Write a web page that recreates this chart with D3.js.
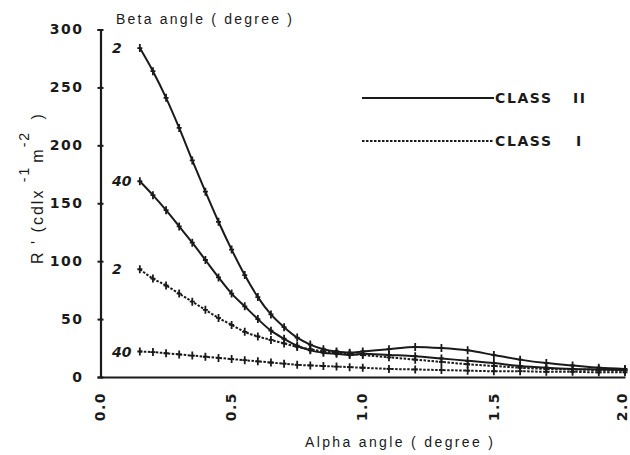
<!DOCTYPE html>
<html>
<head>
<meta charset="utf-8">
<script src="https://cdn.jsdelivr.net/npm/d3@7"></script>
<style>
body{margin:0;background:#fff;}
text{fill:#1a1a1a;}
</style>
</head>
<body>
<div id="chart"></div>
<script>
// alpha angle (degree), finer steps up to 1.0
let alpha=[0.15,0.2,0.25,0.3,0.35,0.4,0.45,0.5,0.55,0.6,0.65,0.7,0.75,0.8,0.85,0.9,0.95,1.0,
  1.1,1.2,1.3,1.4,1.5,1.6,1.7,1.8,1.9,2.0];
// R' values per beta angle
let class2Beta2=[284,264,241,215,187,160,134,110,88,69,54,43,34,28,24,22,21,22,24,26,25,23,19,15,12,10,8,7];
let class2Beta40=[169,157,144,130,116,101,86,72,61,50,40,33,27,23,21,20,19,20,19,18,16,14,12,9.5,8,7,6.5,6];
let class1Beta2=[93,85,79,72,65,58,51,45,39,35,32,29,26,24,22,21,20,19,17,15,13,11,9.5,8,7,6.5,6,5.5];
let class1Beta40=[22,21.5,20.5,19.5,18.5,17.5,16.5,15.5,14.5,13.5,12.5,11.5,10.5,10,9.5,9,8.5,8,7,6.5,6,5.5,5,5,4.5,4.5,4,4];
let curveLabels=["2","40","2","40"];
let yTicks=[0,50,100,150,200,250,300];
let xTicks=[0,0.5,1.0,1.5,2.0];

let width=630;
let height=455;
let ink="#1a1a1a";

let series=[
  {vals:class2Beta2, dash:null, label:curveLabels[0]},
  {vals:class2Beta40, dash:null, label:curveLabels[1]},
  {vals:class1Beta2, dash:"2.5,1.5", label:curveLabels[2]},
  {vals:class1Beta40, dash:"2.5,1.5", label:curveLabels[3]}
];

let chart=d3.select("#chart").append("svg")
  .attr("width",width).attr("height",height);

let x=d3.scaleLinear().domain([0,2]).range([100.5,625]);
let y=d3.scaleLinear().domain([0,300]).range([377,29.5]);

// y axis
let yAxis=d3.axisLeft(y).tickValues(yTicks).tickSize(3).tickPadding(14);
let yg=chart.append("g").attr("transform","translate("+x(0)+",0)").call(yAxis);
yg.select(".domain").attr("stroke",ink).attr("stroke-width",2.2);
yg.selectAll(".tick line").attr("stroke",ink).attr("stroke-width",2).attr("x2",3).attr("x1",-3);
yg.selectAll(".tick text")
  .attr("font-family","DejaVu Sans").attr("font-weight","bold")
  .attr("font-size",14).attr("letter-spacing",1.5).attr("fill",ink);

// x axis
let xAxis=d3.axisBottom(x).tickValues(xTicks).tickSize(0).tickFormat(d3.format(".1f"));
let xg=chart.append("g").attr("transform","translate(0,"+y(0)+")").call(xAxis);
xg.select(".domain").attr("stroke",ink).attr("stroke-width",2.2);
xg.selectAll(".tick text")
  .attr("font-family","DejaVu Sans").attr("font-weight","bold")
  .attr("font-size",14).attr("letter-spacing",1.5).attr("fill",ink)
  .attr("transform","rotate(-90)")
  .attr("text-anchor","end").attr("dy","0.3em")
  .attr("x",-15)
  .attr("y",function(d){return d===2?-3:0;});

// curves
let line=d3.line().x(function(d){return x(d[0]);}).y(function(d){return y(d[1]);})
  .curve(d3.curveMonotoneX);

series.forEach(function(s){
  let pts=alpha.map(function(a,i){return [a,s.vals[i]];});
  chart.append("path").datum(pts)
    .attr("d",line).attr("fill","none")
    .attr("stroke",ink).attr("stroke-width",2)
    .attr("stroke-dasharray",s.dash);
  chart.append("g").selectAll("path").data(pts).enter().append("path")
    .attr("d","M0,-4V4M-2.5,0H2.5")
    .attr("transform",function(d){return "translate("+x(d[0])+","+y(d[1])+")";})
    .attr("stroke",ink).attr("stroke-width",1.8);
  chart.append("text").text(s.label)
    .attr("x",112).attr("y",y(s.vals[0])+5)
    .attr("font-family","DejaVu Sans").attr("font-weight","bold")
    .attr("font-style","italic").attr("font-size",14);
});

// titles
chart.append("text").text("Beta angle ( degree )")
  .attr("x",116).attr("y",24)
  .attr("font-family","Liberation Sans").attr("font-size",14)
  .attr("textLength",176).attr("lengthAdjust","spacing");
chart.append("text").text("Alpha angle ( degree )")
  .attr("x",305).attr("y",447)
  .attr("font-family","Liberation Sans").attr("font-size",14)
  .attr("textLength",188).attr("lengthAdjust","spacing");

// y label
let yl=chart.append("text")
  .attr("transform","translate(43,188) rotate(-90)")
  .attr("text-anchor","middle")
  .attr("font-family","Liberation Sans").attr("font-size",16)
  .attr("letter-spacing",2);
yl.append("tspan").text("R ' (cdlx ");
yl.append("tspan").text("-1").attr("dy",-14).attr("font-size",14);
yl.append("tspan").text("m").attr("dy",14).attr("dx",3);
yl.append("tspan").text("-2").attr("dy",-14).attr("font-size",14);
yl.append("tspan").text(" )").attr("dy",14).attr("dx",5);

// legend
let legend=[{name:"CLASS",cls:"II",dash:null,yv:98},{name:"CLASS",cls:"I",dash:"2.5,1.5",yv:141}];
legend.forEach(function(l){
  chart.append("line").attr("x1",362).attr("x2",494)
    .attr("y1",l.yv).attr("y2",l.yv)
    .attr("stroke",ink).attr("stroke-width",2)
    .attr("stroke-dasharray",l.dash);
  chart.append("text").text(l.name)
    .attr("x",495).attr("y",l.yv+5)
    .attr("font-family","DejaVu Sans").attr("font-weight","bold")
    .attr("font-size",14).attr("textLength",56).attr("lengthAdjust","spacing");
  chart.append("text").text(l.cls)
    .attr("x",l.cls==="II"?573:576).attr("y",l.yv+5)
    .attr("font-family","DejaVu Sans").attr("font-weight","bold")
    .attr("font-size",14).attr("letter-spacing",1.5);
});
</script>
</body>
</html>
